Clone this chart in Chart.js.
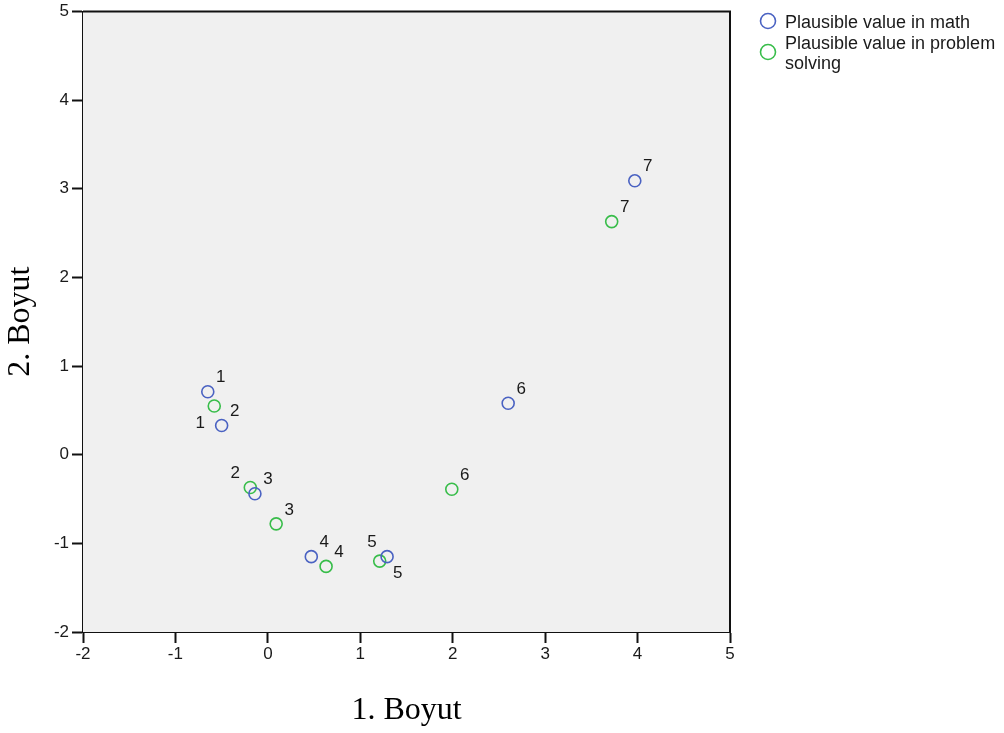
<!DOCTYPE html>
<html>
<head>
<meta charset="utf-8">
<title>Boyut</title>
<script src="https://cdn.jsdelivr.net/npm/chart.js@4/dist/chart.umd.min.js"></script>
<style>
    html, body { margin:0; padding:0; background:#ffffff; }
    canvas { display:block; }
</style>
</head>
<body>
<canvas id="plot" width="1004" height="733"></canvas>
<script>
// point ids (1..7) for both groups
const pointIds = ["1","2","3","4","5","6","7"];

// dimension 1 / dimension 2 coordinates
const mathX = [-0.65, -0.50, -0.14, 0.47, 1.29, 2.60, 3.97];
const mathY = [ 0.71,  0.33, -0.44, -1.15, -1.15, 0.58, 3.09];
const probX = [-0.58, -0.19, 0.09, 0.63, 1.21, 1.99, 3.72];
const probY = [ 0.55, -0.37, -0.78, -1.26, -1.20, -0.39, 2.63];

const axisTicks = [-2, -1, 0, 1, 2, 3, 4, 5];

// where the id label sits next to its point
const mathLabelPos = ["ur","ur","ur","ur","ul","ur","ur"];
const probLabelPos = ["ll","ul","ur","ur","lr","ur","ur"];

const seriesNames = ["Plausible value in math", "Plausible value in problem solving"];
const seriesColors = ["#4a62c2", "#38bd4a"];

const LBL_OFF = {
    ur: [13, -14],
    ul: [-15, -14],
    ll: [-14, 17],
    lr: [18, 12]
};

const toPts = (xs, ys)=> xs.map((x,i)=>({x:x, y:ys[i]}));

// plot background + frame
const frame = {
    id: 'frame',
    beforeDatasetsDraw: (chart)=>{
        const {ctx, chartArea:a} = chart;
        ctx.save();
        ctx.fillStyle = '#f0f0f0';
        ctx.fillRect(a.left, a.top, a.right - a.left, a.bottom - a.top);
        ctx.strokeStyle = '#111';
        ctx.lineWidth = 2;
        ctx.beginPath();
        ctx.moveTo(a.left, a.top);
        ctx.lineTo(a.right, a.top);
        ctx.lineTo(a.right, a.bottom);
        ctx.stroke();
        ctx.restore();
    }
};

// id labels beside each point
const pointLabels = {
    id: 'pointLabels',
    afterDatasetsDraw: (chart)=>{
        const ctx = chart.ctx;
        ctx.save();
        ctx.font = '17px "Liberation Sans", Arial, sans-serif';
        ctx.fillStyle = '#1a1a1a';
        ctx.textAlign = 'center';
        ctx.textBaseline = 'middle';
        chart.data.datasets.forEach((ds, di)=>{
            let meta = chart.getDatasetMeta(di);
            meta.data.forEach((el, i)=>{
                let o = LBL_OFF[ds.labelPos[i]];
                ctx.fillText(ds.ids[i], el.x + o[0], el.y + o[1]);
            });
        });
        ctx.restore();
    }
};

// legend at the top right, wrapping long names
const sideLegend = {
    id: 'sideLegend',
    afterDraw: (chart)=>{
        const ctx = chart.ctx;
        let x0 = 768, tx = 785, y = 28, lh = 20;
        let maxW = chart.width - tx - 4;
        ctx.save();
        ctx.font = '18px "Liberation Sans", Arial, sans-serif';
        ctx.textAlign = 'left';
        ctx.textBaseline = 'alphabetic';
        chart.data.datasets.forEach((ds)=>{
            let words = ds.label.split(' ');
            let lines = [], cur = '';
            for (let w of words){
                let t = cur ? cur + ' ' + w : w;
                if (ctx.measureText(t).width > maxW && cur){ lines.push(cur); cur = w; }
                else cur = t;
            }
            lines.push(cur);

            let cy = y - 7 + (lines.length - 1) * lh / 2;
            ctx.beginPath();
            ctx.arc(x0, cy, 7.5, 0, Math.PI*2);
            ctx.strokeStyle = ds.borderColor;
            ctx.lineWidth = 1.6;
            ctx.stroke();

            ctx.fillStyle = '#1a1a1a';
            lines.forEach((l, k)=> ctx.fillText(l, tx, y + k*lh));
            y += lines.length * lh + 1;
        });
        ctx.restore();
    }
};

const tickFont = { family: '"Liberation Sans", Arial, sans-serif', size: 17, lineHeight: 1 };
const titleFont = { family: '"Liberation Serif", "Times New Roman", serif', size: 32 };

const axis = (title, pad, fit)=>({
    type: 'linear',
    min: axisTicks[0],
    max: axisTicks[axisTicks.length - 1],
    afterBuildTicks: (s)=>{ s.ticks = axisTicks.map(v=>({value:v})); },
    ticks: { font: tickFont, color: '#1a1a1a', padding: 3 },
    grid: { drawOnChartArea: false, drawTicks: true, tickLength: 11, tickColor: '#111', tickWidth: 2 },
    border: { display: true, color: '#111', width: 2 },
    title: { display: true, text: title, font: titleFont, color: '#000', padding: pad },
    afterFit: fit
});

new Chart(document.getElementById('plot'), {
    type: 'scatter',
    data: {
        datasets: [
            {
                label: seriesNames[0],
                data: toPts(mathX, mathY),
                ids: pointIds,
                labelPos: mathLabelPos,
                borderColor: seriesColors[0],
                backgroundColor: 'rgba(0,0,0,0)',
                pointRadius: 6,
                pointBorderWidth: 1.6,
                pointHoverRadius: 6
            },
            {
                label: seriesNames[1],
                data: toPts(probX, probY),
                ids: pointIds,
                labelPos: probLabelPos,
                borderColor: seriesColors[1],
                backgroundColor: 'rgba(0,0,0,0)',
                pointRadius: 6,
                pointBorderWidth: 1.6,
                pointHoverRadius: 6
            }
        ]
    },
    options: {
        responsive: false,
        animation: false,
        devicePixelRatio: 1,
        layout: { padding: { left: 0, top: 9, right: 274, bottom: 0 } },
        scales: {
            x: axis('1. Boyut', { top: 0, bottom: 3 }, (s)=>{ s.height = 101; }),
            y: axis('2. Boyut', { top: 1, bottom: 0 }, (s)=>{ s.width = 83; })
        },
        plugins: {
            legend: { display: false },
            tooltip: { enabled: false }
        }
    },
    plugins: [frame, pointLabels, sideLegend]
});
</script>
</body>
</html>
